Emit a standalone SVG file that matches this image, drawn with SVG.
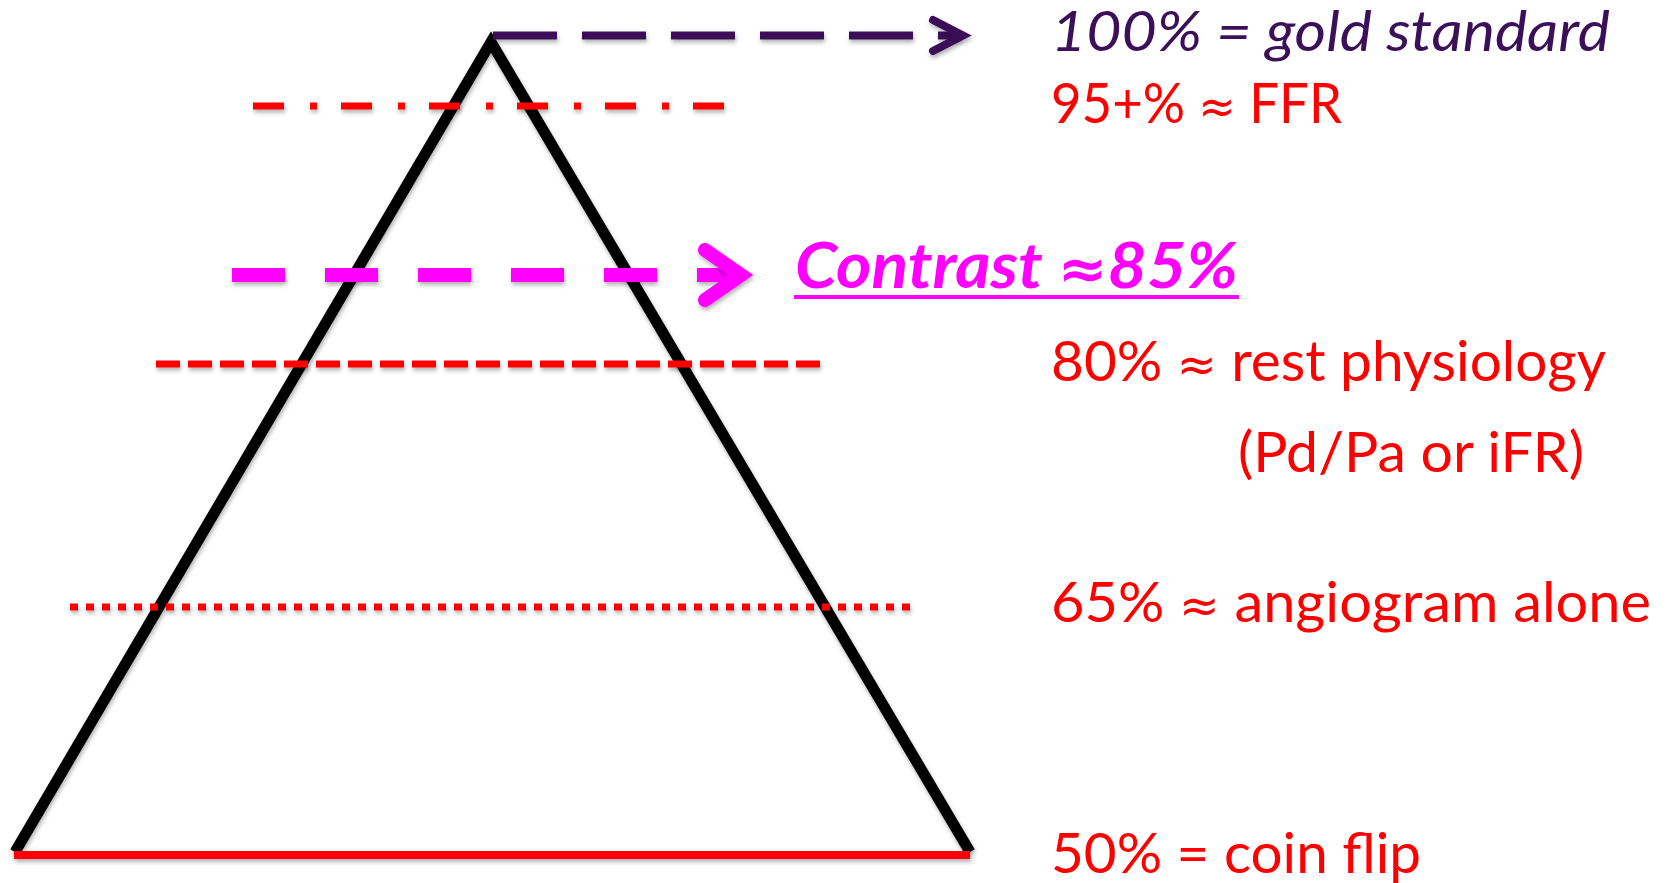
<svg xmlns="http://www.w3.org/2000/svg" width="1668" height="883" viewBox="0 0 1668 883">
<style>
.lbl{font-family:Lato,"Open Sans","Liberation Sans",sans-serif;font-size:57px;fill:#FF0000}
.gold{font-style:italic;fill:#3B1058}
.contrast{font-style:italic;font-weight:bold;font-size:64px;fill:#FF00FF}
.ap{font-family:"DejaVu Sans",sans-serif;font-style:normal;font-size:48px}
.ln{fill:none;filter:url(#sh)}
</style>
<defs>
<filter id="sh" filterUnits="userSpaceOnUse" x="0" y="0" width="1668" height="883">
<feDropShadow dx="1" dy="3" stdDeviation="2" flood-color="#000" flood-opacity="0.3"/>
</filter>
</defs>
<g id="pyramid">
<polyline class="ln" points="15,852 491,42 970,852" stroke="#000" stroke-width="11" stroke-linejoin="miter"/>
<line class="ln" x1="14" y1="855" x2="970" y2="855" stroke="#FF0000" stroke-width="8"/>
</g>
<g id="connectors">
<g id="gold-arrow">
<line class="ln" x1="493" y1="35.5" x2="960" y2="35.5" stroke="#3B1058" stroke-width="8" stroke-dasharray="64 25"/>
<polyline class="ln" points="933,20 963,35.5 933,51" stroke="#3B1058" stroke-width="8" stroke-linecap="round" stroke-linejoin="miter"/>
</g>
<line id="ffr-line" class="ln" x1="253" y1="106" x2="724" y2="106" stroke="#FF0000" stroke-width="7" stroke-dasharray="31 26 7 24"/>
<g id="contrast-arrow">
<line class="ln" x1="232" y1="275" x2="738" y2="275" stroke="#FF00FF" stroke-width="14" stroke-dasharray="53 40"/>
<polyline class="ln" points="705,250 741,275 705,300" stroke="#FF00FF" stroke-width="14" stroke-linecap="round" stroke-linejoin="miter"/>
</g>
<line id="rest-line" class="ln" x1="156" y1="364" x2="821" y2="364" stroke="#FF0000" stroke-width="7" stroke-dasharray="24 8"/>
<line id="angio-line" class="ln" x1="70" y1="607" x2="911" y2="607" stroke="#FF0000" stroke-width="7" stroke-dasharray="8 8"/>
</g>
<g id="label-gold"><text class="lbl gold" x="1051" y="51" textLength="559" lengthAdjust="spacingAndGlyphs">100% = gold standard</text></g>
<g id="label-ffr"><text class="lbl" x="1051" y="123" textLength="291" lengthAdjust="spacingAndGlyphs">95+% <tspan class="ap">≈</tspan> FFR</text></g>
<g id="label-contrast">
<text class="lbl contrast" x="795" y="288" textLength="443" lengthAdjust="spacingAndGlyphs">Contrast <tspan class="ap" font-weight="bold" style="font-size:56px">≈</tspan>85%</text>
<line x1="794" y1="297" x2="1239" y2="297" stroke="#FF00FF" stroke-width="4"/>
</g>
<g id="label-rest">
<text class="lbl" x="1051" y="381" textLength="555" lengthAdjust="spacingAndGlyphs">80% <tspan class="ap">≈</tspan> rest physiology</text>
<text class="lbl" x="1238" y="472" textLength="346" lengthAdjust="spacingAndGlyphs">(Pd/Pa or iFR)</text>
</g>
<g id="label-angio"><text class="lbl" x="1051" y="622" textLength="600" lengthAdjust="spacingAndGlyphs">65% <tspan class="ap">≈</tspan> angiogram alone</text></g>
<g id="label-coin"><text class="lbl" x="1051" y="873" textLength="370" lengthAdjust="spacingAndGlyphs">50% = coin flip</text></g>
</svg>
